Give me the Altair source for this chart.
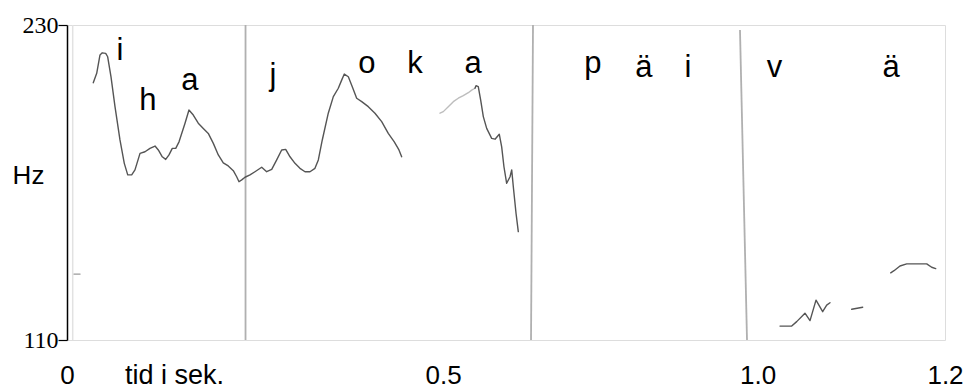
import altair as alt
import pandas as pd

# ---- pitch contour pieces (time in s, F0 in Hz) ----
p1_t = [0.0359, 0.0406, 0.0451, 0.0482, 0.0529, 0.0556, 0.0601, 0.0656, 0.0724, 0.0783,
        0.0830, 0.0884, 0.0929, 0.0998, 0.1066, 0.1134, 0.1203, 0.1248, 0.1302, 0.1349,
        0.1394, 0.1439, 0.1486, 0.1531, 0.1613, 0.1667, 0.1726, 0.1794, 0.1863, 0.1931,
        0.2000, 0.2068, 0.2136, 0.2204, 0.2273, 0.2319, 0.2351, 0.2388, 0.2433, 0.2501,
        0.2569, 0.2661, 0.2729, 0.2798, 0.2866, 0.2934, 0.2989, 0.3048, 0.3116, 0.3184,
        0.3253, 0.3321, 0.3389, 0.3435, 0.3489, 0.3571, 0.3640, 0.3708, 0.3754, 0.3790,
        0.3845, 0.3899, 0.3959, 0.4028, 0.4118, 0.4209, 0.4301, 0.4391, 0.4473, 0.4537,
        0.4574]
p1_hz = [208.0, 211.6, 218.6, 219.4, 219.2, 217.9, 210.3, 198.9, 186.2, 177.3,
         172.9, 172.9, 174.8, 181.1, 181.7, 183.0, 183.9, 182.4, 179.8, 178.8,
         180.5, 183.0, 183.0, 185.5, 192.6, 197.6, 195.7, 192.6, 190.6, 188.7,
         184.9, 180.5, 177.5, 176.3, 174.5, 172.2, 170.3, 171.0, 172.0, 172.9,
         174.1, 175.8, 174.1, 175.0, 178.6, 182.4, 182.6, 179.8, 177.3, 175.4,
         174.1, 174.1, 175.4, 178.6, 186.2, 196.4, 202.7, 205.9, 209.0, 211.3,
         210.3, 206.5, 202.1, 200.8, 198.9, 196.4, 193.2, 188.7, 185.5, 182.4,
         179.8]

# light (uncertain) part of the third syllable
p2_t = [0.5098, 0.5143, 0.5211, 0.5280, 0.5348, 0.5416, 0.5485, 0.5531, 0.5576]
p2_hz = [196.4, 197.0, 198.9, 200.8, 202.1, 203.1, 204.2, 205.2, 205.9]

p3_t = [0.5576, 0.5590, 0.5621, 0.5654, 0.5690, 0.5736, 0.5804, 0.5850, 0.5908, 0.5941,
        0.5972, 0.6009, 0.6055, 0.6078, 0.6100, 0.6137, 0.6168]
p3_hz = [205.9, 206.9, 206.5, 201.4, 195.1, 190.6, 186.8, 186.5, 188.4, 183.6,
         176.0, 169.7, 172.2, 174.8, 168.4, 158.3, 151.3]

p4_t = [0.9745, 0.9905, 0.9973, 1.0086, 1.0155, 1.0237, 1.0328, 1.0383, 1.0428]
p4_hz = [115.3, 115.3, 117.0, 120.2, 117.4, 125.2, 120.8, 123.3, 124.2]

p5_t = [1.0725, 1.0875]
p5_hz = [121.7, 122.5]

p6_t = [1.1258, 1.1303, 1.1385, 1.1477, 1.1613, 1.1750, 1.1818, 1.1873]
p6_hz = [135.6, 136.4, 138.2, 139.0, 139.0, 139.0, 137.7, 137.2]

stub_t = [0.0096, 0.0178]
stub_hz = [135.1, 135.1]

# ---- segment labels ----
seg_labels = ["i", "h", "a", "j", "o", "k", "a", "p", "ä", "i", "v", "ä"]
seg_t = [0.0724, 0.1107, 0.1681, 0.2815, 0.4100, 0.4756, 0.5549, 0.7189, 0.7886, 0.8488, 0.9668, 1.1262]
seg_hz = [216.7, 197.6, 205.2, 207.1, 211.7, 211.7, 211.7, 211.7, 210.2, 210.2, 210.2, 210.2]

# ---- segment boundaries (top time, bottom time, top Hz, bottom Hz) ----
bound_t_top = [0.0078, 0.2440, 0.6369, 0.9198]
bound_t_bot = [0.0078, 0.2440, 0.6342, 0.9294]
bound_hz_top = [230, 230, 230, 228.1]
bound_hz_bot = [110, 110, 110, 110]
bound_kind = ["faint", "main", "main", "main"]

# ---- axis ticks ----
x_tick_values = [0, 0.514, 0.944, 1.2]
x_tick_labels = ["0", "0.5", "1.0", "1.2"]
y_tick_values = [110, 230]

rows = []
for name, ts, hs, kind in [("p1", p1_t, p1_hz, "dark"), ("p2", p2_t, p2_hz, "light"),
                           ("p3", p3_t, p3_hz, "dark"), ("p4", p4_t, p4_hz, "dark"),
                           ("p5", p5_t, p5_hz, "dark"), ("p6", p6_t, p6_hz, "dark"),
                           ("stub", stub_t, stub_hz, "stub")]:
    for i, (t, h) in enumerate(zip(ts, hs)):
        rows.append({"piece": name, "kind": kind, "t": t, "hz": h, "order": i})
contour = pd.DataFrame(rows)

labels_df = pd.DataFrame({"label": seg_labels, "t": seg_t, "hz": seg_hz})
bounds_df = pd.DataFrame({"t": bound_t_top, "t2": bound_t_bot, "hz": bound_hz_top,
                          "hz2": bound_hz_bot, "kind": bound_kind})

label_expr = "{" + ", ".join(f"'{v}': '{l}'" for v, l in zip(x_tick_values, x_tick_labels)) + "}[datum.value]"

xscale = alt.Scale(domain=[0, 1.2], nice=False, zero=False)
yscale = alt.Scale(domain=[110, 230], nice=False, zero=False)

x_axis = alt.Axis(values=x_tick_values, labelExpr=label_expr, ticks=False, tickSize=0,
                  grid=False, domain=False, labelFont="Liberation Sans", labelFontSize=26,
                  labelColor="black", labelPadding=43, labelBaseline="alphabetic",
                  labelFlush=False, labelOverlap=False,
                  title="tid i sek.", titleFont="Liberation Sans", titleFontSize=27,
                  titleFontWeight="normal", titleColor="black", titleX=107, titleY=43,
                  titleAlign="center", titleBaseline="alphabetic")
y_axis = alt.Axis(values=y_tick_values, grid=False, domainColor="black", domainWidth=1.5,
                  tickColor="black", tickSize=9, tickWidth=1.2,
                  labelFont="Liberation Serif", labelFontSize=24, labelColor="black",
                  labelPadding=0, labelBaseline="middle", labelFlush=False, labelOverlap=False,
                  title="Hz", titleAngle=0, titleFont="Liberation Sans", titleFontSize=26,
                  titleFontWeight="normal", titleColor="black", titleX=-39, titleY=150,
                  titleAlign="center", titleBaseline="middle")

bounds = alt.Chart(bounds_df).mark_rule().encode(
    x=alt.X("t:Q", scale=xscale, axis=x_axis),
    x2="t2:Q",
    y=alt.Y("hz:Q", scale=yscale, axis=y_axis),
    y2="hz2:Q",
    color=alt.Color("kind:N", scale=alt.Scale(domain=["faint", "main"], range=["#e2e2e2", "#b0b0b0"]), legend=None),
    strokeWidth=alt.StrokeWidth("kind:N", scale=alt.Scale(domain=["faint", "main"], range=[1.5, 1.8]), legend=None),
)

lines = alt.Chart(contour).mark_line(strokeJoin="round", strokeCap="round").encode(
    x=alt.X("t:Q", scale=xscale),
    y=alt.Y("hz:Q", scale=yscale),
    detail="piece:N",
    order="order:Q",
    color=alt.Color("kind:N", scale=alt.Scale(domain=["dark", "light", "stub"], range=["#555555", "#bdbdbd", "#9a9a9a"]), legend=None),
    strokeWidth=alt.value(1.4),
)

texts = alt.Chart(labels_df).mark_text(font="Liberation Sans", fontSize=31, align="center",
                                       baseline="alphabetic", color="black").encode(
    x=alt.X("t:Q", scale=xscale),
    y=alt.Y("hz:Q", scale=yscale),
    text="label:N",
)

chart = alt.layer(bounds, lines, texts).properties(
    width=878, height=315,
    autosize=alt.AutoSizeParams(type="none"),
    padding={"left": 59, "top": 17, "right": 21, "bottom": 48},
).resolve_scale(color="independent", strokeWidth="independent").configure_view(
    stroke="#5a5a5a", strokeWidth=2
).configure(background="white")

chart.save("out.html", embed_options={"renderer": "svg", "actions": False})
